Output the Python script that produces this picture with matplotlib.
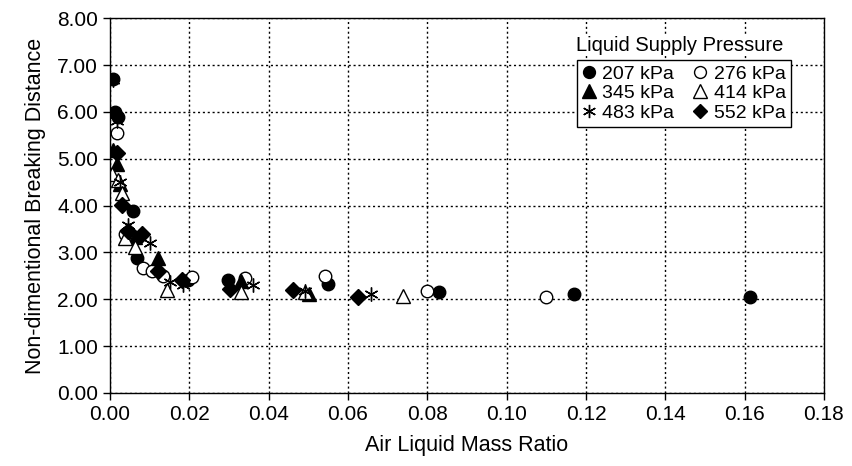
import matplotlib.pyplot as plt
from matplotlib.ticker import MultipleLocator, FormatStrFormatter

plt.rcParams['font.family'] = ['Liberation Sans', 'DejaVu Sans']

# data (air/liquid mass ratio, non-dim breaking distance)
x_207 = [0.0008, 0.0013, 0.0021, 0.0059, 0.0067, 0.0197, 0.0298, 0.0550, 0.0829, 0.1170, 0.1613]
y_207 = [6.71, 6.00, 5.88, 3.88, 2.88, 2.41, 2.42, 2.32, 2.15, 2.11, 2.05]

x_276 = [0.0017, 0.0038, 0.0084, 0.0105, 0.0134, 0.0206, 0.0340, 0.0542, 0.0798, 0.1100]
y_276 = [5.55, 3.40, 2.66, 2.60, 2.50, 2.48, 2.45, 2.50, 2.17, 2.04]

x_345 = [0.0008, 0.0017, 0.0025, 0.0063, 0.0122, 0.0330, 0.0502]
y_345 = [5.18, 4.88, 4.45, 3.33, 2.88, 2.38, 2.12]

x_414 = [0.0004, 0.0021, 0.0029, 0.0038, 0.0063, 0.0143, 0.0330, 0.0492, 0.0739]
y_414 = [4.68, 4.55, 4.26, 3.30, 3.12, 2.20, 2.16, 2.15, 2.07]

x_483 = [0.0008, 0.0017, 0.0025, 0.0046, 0.0101, 0.0151, 0.0185, 0.0361, 0.0492, 0.0657]
y_483 = [6.68, 5.80, 4.50, 3.58, 3.20, 2.37, 2.30, 2.30, 2.18, 2.10]

x_552 = [0.0017, 0.0029, 0.0046, 0.0080, 0.0122, 0.0181, 0.0302, 0.0462, 0.0626]
y_552 = [5.12, 4.02, 3.45, 3.40, 2.60, 2.40, 2.22, 2.20, 2.05]

fig = plt.figure(figsize=(8.53, 4.66), dpi=100)
ax = fig.add_axes([0.129, 0.157, 0.837, 0.804])

ms = 9
h207, = ax.plot(x_207, y_207, 'o', color='black', ms=ms, label='207 kPa')
h276, = ax.plot(x_276, y_276, 'o', mfc='white', mec='black', ms=ms, mew=1, label='276 kPa')
h345, = ax.plot(x_345, y_345, '^', color='black', ms=ms + 1, label='345 kPa')
h414, = ax.plot(x_414, y_414, '^', mfc='white', mec='black', ms=ms + 1, mew=1, label='414 kPa')
h483, = ax.plot(x_483, y_483, linestyle='none', marker=(6, 2, 0), color='black', ms=ms + 1, mew=1, label='483 kPa')
h552, = ax.plot(x_552, y_552, 'D', color='black', ms=ms - 1, label='552 kPa')

ax.set_xlim(0, 0.18)
ax.set_ylim(0, 8)
ax.xaxis.set_major_locator(MultipleLocator(0.02))
ax.yaxis.set_major_locator(MultipleLocator(1))
ax.xaxis.set_major_formatter(FormatStrFormatter('%.2f'))
ax.yaxis.set_major_formatter(FormatStrFormatter('%.2f'))
ax.grid(True, color='black', linestyle=(0, (1.5, 2)), linewidth=1)
ax.set_axisbelow(True)
ax.tick_params(direction='out', length=5, width=1, labelsize=15, colors='black')
for s in ax.spines.values():
    s.set_linewidth(1)
    s.set_color('black')

ax.set_xlabel('Air Liquid Mass Ratio', fontsize=15.5, labelpad=8)
ax.set_ylabel('Non-dimentional Breaking Distance', fontsize=15.5, labelpad=8)

# legend: columns filled top to bottom
handles = [h207, h345, h483, h276, h414, h552]
leg = ax.legend(handles=handles, ncol=2, loc='upper left', bbox_to_anchor=(0.654, 0.888),
                fontsize=14, frameon=True, fancybox=False, edgecolor='black',
                framealpha=1, borderpad=0.25, labelspacing=0.1, handlelength=0.7,
                handletextpad=0.35, columnspacing=1.0, borderaxespad=0, markerscale=0.95)
leg.get_frame().set_linewidth(1)
ax.text(0.798, 0.928, 'Liquid Supply Pressure', transform=ax.transAxes, fontsize=14.5,
        ha='center', va='center', bbox=dict(facecolor='white', edgecolor='none', pad=1))

fig.savefig('out.png', dpi=100)
